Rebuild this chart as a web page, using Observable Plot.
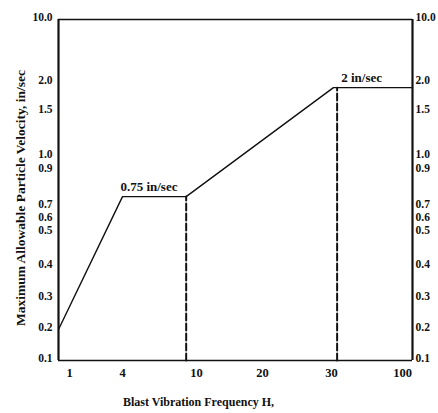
<!DOCTYPE html>
<html>
<head>
<meta charset="utf-8">
<script src="https://cdn.jsdelivr.net/npm/d3@7"></script>
<script src="https://cdn.jsdelivr.net/npm/@observablehq/plot@0.6"></script>
<style>
  html, body { margin: 0; padding: 0; background: #fff; }
</style>
</head>
<body>
<div id="chart"></div>
<script>
// Tick labels (as printed on the chart)
const xTicks = [1, 4, 10, 20, 30, 100];
const yTicks = [0.1, 0.2, 0.3, 0.4, 0.5, 0.6, 0.7, 0.9, 1.0, 1.5, 2.0, 10.0];

// Limit curve: frequency (Hz) vs maximum allowable particle velocity (in/sec)
const curveFreq = [0.85, 4, 8.8, 31, 115];
const curveVel  = [0.2, 0.75, 0.75, 1.9, 1.9];

// Dashed drop lines
const dashFreq = [8.8, 33];
const dashTop  = [0.75, 1.9];

// Annotations
const noteText = ["0.75 in/sec", "2 in/sec"];
const noteFreq = [5.55, 50];
const noteVel  = [0.75, 1.9];

// Axis extent
const xExtent = [0.85, 115];
const yExtent = [0.1, 10];

// Scale breakpoints of the hand-drawn (non-uniform) axes
const xBreaks = [0.85, 1, 4, 10, 20, 30, 100, 115];
const xBreakPx = [58, 69, 122, 196, 262, 331, 402, 412];
const yBreakPx = [360, 329, 298, 266, 232, 219, 206, 170, 156, 111, 82, 19];

const curve = curveFreq.map((f, i) => ({f, v: curveVel[i]}));
const dashes = dashFreq.flatMap((f, i) => [
  {id: i, f, v: yExtent[0]}, {id: i, f, v: dashTop[i]}
]);
const notes = noteText.map((t, i) => ({t, f: noteFreq[i], v: noteVel[i]}));

const font = "'Liberation Serif', 'DejaVu Serif', serif";
const fmtY = d => d.toFixed(1);

const chart = Plot.plot({
  width: 438,
  height: 413,
  marginLeft: 58,
  marginRight: 26,
  marginTop: 19,
  marginBottom: 53,
  style: {fontFamily: font, fontSize: "12.5px", fontWeight: "bold", background: "#fff", color: "#111"},
  x: {type: "log", domain: xBreaks, range: xBreakPx, axis: null},
  y: {type: "log", domain: yTicks, range: yBreakPx, axis: null},
  marks: [
    Plot.axisX({ticks: xTicks, tickFormat: d => String(d), tickSize: 0, tickPadding: 8, label: null}),
    Plot.text(yTicks, {x: xExtent[0], y: d => d, text: fmtY, textAnchor: "end", dx: -6, dy: -2, fill: "#111", fontSize: 11.5}),
    Plot.text(yTicks, {x: xExtent[1], y: d => d, text: fmtY, textAnchor: "start", dx: 3, dy: -2, fill: "#111", fontSize: 11.5}),
    Plot.ruleY(yExtent, {stroke: "#111", strokeWidth: 1.6}),
    Plot.ruleX(xExtent, {stroke: "#111", strokeWidth: 2.2}),
    Plot.line(dashes, {x: "f", y: "v", z: "id", stroke: "#111", strokeWidth: 2, strokeDasharray: "7,3"}),
    Plot.line(curve, {x: "f", y: "v", stroke: "#111", strokeWidth: 1.4}),
    Plot.text(notes, {x: "f", y: "v", text: "t", dy: -10, fill: "#111", fontSize: 13}),
    Plot.text(["Maximum Allowable Particle Velocity, in/sec"], {frameAnchor: "left", textAnchor: "middle", rotate: -90, dx: -38, dy: 8, fill: "#111", fontSize: 13.5}),
    Plot.text(["Blast Vibration Frequency H,"], {frameAnchor: "bottom", textAnchor: "middle", dx: -37, dy: 45, fill: "#111", fontSize: 12})
  ]
});
document.getElementById("chart").appendChild(chart);
</script>
</body>
</html>
